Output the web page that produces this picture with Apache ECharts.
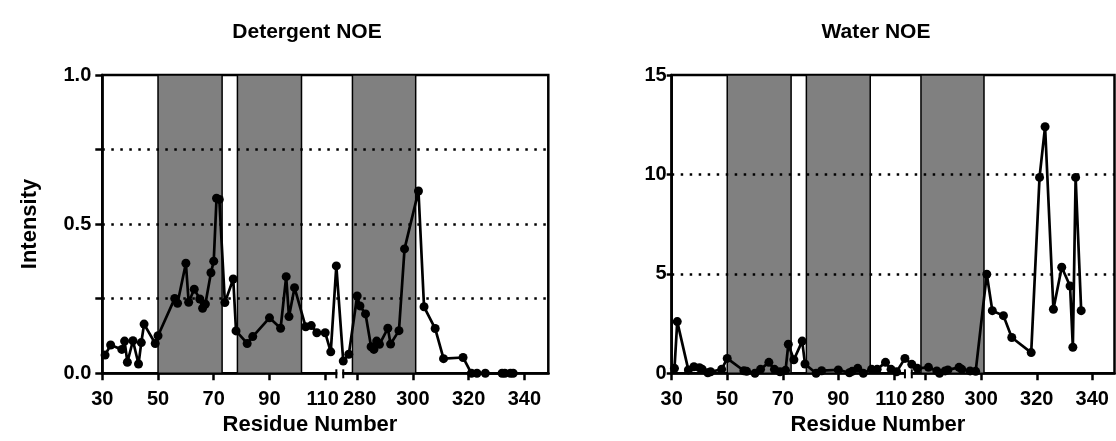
<!DOCTYPE html>
<html>
<head>
<meta charset="utf-8">
<script src="https://cdn.jsdelivr.net/npm/echarts@6/dist/echarts.min.js"></script>
<style>
  html, body { margin: 0; padding: 0; background: #fff; }
  #chart { width: 1116px; height: 441px; }
</style>
</head>
<body>
<div id="chart"></div>
<script>
// Residue numbers and NOE intensities, detergent contact
const detergentResidues = [31, 33, 37, 38, 39, 41, 43, 44, 45, 49, 50, 56, 57, 60, 61, 63, 65, 66, 67, 69, 70, 71, 72, 74, 77, 78, 82, 84, 90, 94, 96, 97, 99, 103, 105, 107, 110, 112, 114,
  275, 277, 280, 281, 283, 285, 286, 287, 288, 291, 292, 295, 297, 302, 304, 308, 311, 318, 321, 323, 326, 332, 333, 335, 336];
const detergentIntensity = [0.061, 0.095, 0.080, 0.108, 0.037, 0.109, 0.031, 0.103, 0.165, 0.100, 0.126, 0.251, 0.235, 0.369, 0.238, 0.282, 0.249, 0.218, 0.232, 0.337, 0.376, 0.587, 0.583, 0.237, 0.316, 0.142, 0.100, 0.123, 0.186, 0.151, 0.324, 0.190, 0.287, 0.156, 0.160, 0.136, 0.136, 0.072, 0.360,
  0.041, 0.064, 0.259, 0.226, 0.199, 0.089, 0.080, 0.108, 0.097, 0.151, 0.098, 0.143, 0.417, 0.611, 0.223, 0.150, 0.049, 0.053, 0, 0, 0, 0, 0, 0, 0];

// Residue numbers and NOE intensities, water contact
const waterResidues = [31, 32, 36, 38, 40, 41, 43, 44, 48, 50, 56, 57, 60, 62, 65, 67, 69, 71, 72, 74, 77, 78, 82, 84, 90, 94, 95, 97, 99, 102, 104, 107, 109, 111, 114,
  275, 277, 281, 284, 285, 287, 288, 292, 293, 296, 298, 302, 304, 308, 311, 318, 321, 323, 326, 329, 332, 333, 334, 336];
const waterIntensity = [0.25, 2.6, 0.17, 0.33, 0.28, 0.20, 0.03, 0.08, 0.20, 0.75, 0.13, 0.10, 0.00, 0.20, 0.55, 0.20, 0.08, 0.15, 1.46, 0.68, 1.62, 0.47, 0.00, 0.13, 0.17, 0.03, 0.10, 0.25, 0.00, 0.20, 0.20, 0.55, 0.20, 0.08, 0.75,
  0.45, 0.25, 0.30, 0.12, 0.00, 0.12, 0.17, 0.30, 0.20, 0.12, 0.10, 4.98, 3.15, 2.90, 1.80, 1.04, 9.85, 12.4, 3.22, 5.33, 4.39, 1.31, 9.85, 3.15];

// Transmembrane helix spans (shaded)
const helixSpans = [[50, 73], [78.5, 101.5], [278.3, 301]];

// Axis ticks
const residueTicks = [30, 50, 70, 90, 110, 280, 300, 320, 340];
const detergentLabelTicks = [0, 0.5, 1];
const detergentGuides = [0.25, 0.5, 0.75];
const waterGuides = [5, 10];
const residueBreak = { start: 114, end: 275 };

const FONT = '"Liberation Sans", Arial, Helvetica, sans-serif';
const chart = echarts.init(document.getElementById('chart'), null, { renderer: 'canvas' });

const panels = [
  { left: 102.3, width: 446, xMax: 348.6, residues: detergentResidues, values: detergentIntensity, guides: detergentGuides },
  { left: 671.7, width: 442.8, xMax: 348, residues: waterResidues, values: waterIntensity, guides: waterGuides }
];

// labels on either side of the break are pushed slightly apart
function residueLabel(v) {
  if (v === residueBreak.start - 4) return '{before|' + v + '}';
  if (v === residueBreak.end + 5) return '{after|' + v + '}';
  return String(v);
}

function xAxisFor(i, p) {
  return {
    type: 'value', gridIndex: i, min: 30, max: p.xMax,
    breaks: [{ start: residueBreak.start, end: residueBreak.end, gap: '1.55%' }],
    breakArea: { show: false },
    axisLine: { onZero: false, lineStyle: { color: '#000', width: 2.5 } },
    axisTick: { customValues: residueTicks, length: 7, lineStyle: { color: '#000', width: 2.5 } },
    axisLabel: {
      customValues: residueTicks, margin: 16, color: '#000', fontFamily: FONT, fontWeight: 'bold', fontSize: 20,
      formatter: residueLabel,
      rich: {
        before: { padding: [0, 5, 0, 0], fontFamily: FONT, fontWeight: 'bold', fontSize: 20, color: '#000' },
        after: { padding: [0, 0, 0, 5], fontFamily: FONT, fontWeight: 'bold', fontSize: 20, color: '#000' }
      }
    },
    splitLine: { show: false }
  };
}

const option = {
  animation: false,
  backgroundColor: '#fff',
  grid: panels.map(p => ({
    left: p.left, top: 75, width: p.width, height: 298.3,
    show: true, borderColor: '#000', borderWidth: 2.5, backgroundColor: 'transparent'
  })),
  xAxis: panels.map((p, i) => xAxisFor(i, p)),
  yAxis: [
    {
      type: 'value', gridIndex: 0, min: 0, max: 1, interval: 0.25,
      axisLine: { show: true, lineStyle: { color: '#000', width: 2.5 } },
      axisTick: { show: true, length: 7, lineStyle: { color: '#000', width: 2.5 } },
      axisLabel: { customValues: detergentLabelTicks, margin: 11, color: '#000', fontFamily: FONT, fontWeight: 'bold', fontSize: 20,
        formatter: v => v.toFixed(1) },
      splitLine: { show: false }
    },
    {
      type: 'value', gridIndex: 1, min: 0, max: 15, interval: 5,
      axisLine: { show: true, lineStyle: { color: '#000', width: 2.5 } },
      axisTick: { show: true, length: 5, lineStyle: { color: '#000', width: 2.5 } },
      axisLabel: { margin: 5, color: '#000', fontFamily: FONT, fontWeight: 'bold', fontSize: 20 },
      splitLine: { show: false }
    }
  ],
  series: []
};

panels.forEach((p, i) => {
  // shaded helices and dotted guide lines
  option.series.push({
    type: 'line', xAxisIndex: i, yAxisIndex: i, data: [], silent: true, z: 1,
    markArea: {
      silent: true, z: 1,
      itemStyle: { color: '#808080', borderColor: '#000', borderWidth: 1.5 },
      data: helixSpans.map(s => [{ xAxis: s[0] }, { xAxis: s[1] }])
    },
    markLine: {
      silent: true, z: 1.5, symbol: 'none', label: { show: false },
      lineStyle: { color: '#000', type: [2.5, 6.5], width: 2.5 },
      data: p.guides.map(g => ({ yAxis: g }))
    }
  });
  // NOE intensity trace
  option.series.push({
    type: 'line', xAxisIndex: i, yAxisIndex: i, z: 3, clip: false,
    data: p.residues.map((r, k) => [r, p.values[k]]),
    symbol: 'circle', symbolSize: 9, showSymbol: true,
    lineStyle: { color: '#000', width: 2.7 },
    itemStyle: { color: '#000' }
  });
});

chart.setOption(option);

// Axis-break marks on the residue axes, plus titles
const graphics = [];
panels.forEach((p, i) => {
  const xs = chart.convertToPixel({ xAxisIndex: i }, residueBreak.start);
  const xe = chart.convertToPixel({ xAxisIndex: i }, residueBreak.end);
  const y0 = chart.convertToPixel({ yAxisIndex: i }, 0);
  graphics.push({ type: 'rect', z: 50, shape: { x: xs + 1, y: y0 - 3, width: xe - xs - 2, height: 6 }, style: { fill: '#fff' } });
  graphics.push({ type: 'line', z: 51, shape: { x1: xs, y1: y0 - 4, x2: xs, y2: y0 + 5 }, style: { stroke: '#000', lineWidth: 2 } });
  graphics.push({ type: 'line', z: 51, shape: { x1: xe, y1: y0 - 4, x2: xe, y2: y0 + 5 }, style: { stroke: '#000', lineWidth: 2 } });
});
const txt = (text, x, y, size, rot) => ({
  type: 'text', x, y, rotation: rot || 0, z: 60,
  style: { text, fill: '#000', font: 'bold ' + size + 'px ' + FONT, textAlign: 'center', textVerticalAlign: 'middle', verticalAlign: 'middle' }
});
graphics.push(txt('Detergent NOE', 307, 32, 21));
graphics.push(txt('Water NOE', 876, 32, 21));
graphics.push(txt('Residue Number', 310, 425, 22));
graphics.push(txt('Residue Number', 878, 425, 22));
graphics.push(txt('Intensity', 30, 224, 22, Math.PI / 2));
chart.setOption({ graphic: graphics });
</script>
</body>
</html>
